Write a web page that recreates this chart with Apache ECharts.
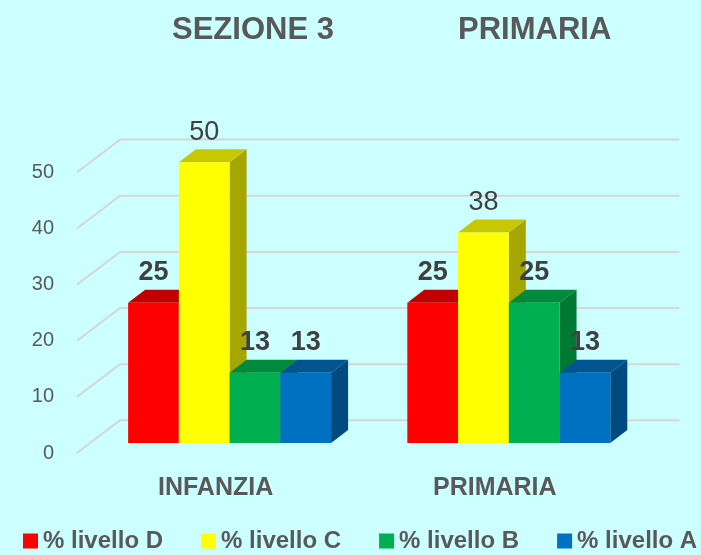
<!DOCTYPE html>
<html>
<head>
<meta charset="utf-8">
<script src="https://cdn.jsdelivr.net/npm/echarts@6/dist/echarts.min.js"></script>
<style>
  html, body { margin: 0; padding: 0; background: #CCFFFF; }
  #container { width: 701px; height: 555px; }
</style>
</head>
<body>
<div id="container"></div>
<script>
(function() {
"use strict";

    var categories = ['INFANZIA', 'PRIMARIA'];
    var seriesNames = ['% livello D', '% livello C', '% livello B', '% livello A'];
    var livelloD = [25, 25];
    var livelloC = [50, 37.5];
    var livelloB = [12.5, 25];
    var livelloA = [12.5, 12.5];
    var yTicks = [0, 10, 20, 30, 40, 50];

    // front / top / side colours of each 3d bar
    var faces = [
        ['#FF0000', '#C00000', '#A80000'],
        ['#FFFF00', '#C8C800', '#A6A600'],
        ['#00B050', '#008A3C', '#007A33'],
        ['#0070C0', '#005590', '#004A80']
    ];
    var values = [livelloD, livelloC, livelloB, livelloA];

    var DX = 17, DY = -13;   // depth of the bars
    var font = '"Liberation Sans", Arial, sans-serif';

    var dom = document.getElementById("container");
    var myChart = echarts.init(dom);

    function barRenderer(idx) {
        return function(params, api) {
            var cat = api.value(0), val = api.value(1);
            var base = api.coord([cat, 0]);
            var top = api.coord([cat, val]);
            var band = api.size([1, 0])[0];
            var bw = band * 0.727 / 4;
            var x0 = base[0] - bw * 2 + idx * bw;
            var x1 = x0 + bw;
            var yb = base[1], yt = top[1];
            var c = faces[idx];
            var bold = idx === 1 ? 'normal' : 'bold';
            return {
                type: 'group',
                children: [{
                    type: 'polygon',
                    shape: { points: [[x1, yt], [x1 + DX, yt + DY], [x1 + DX, yb + DY], [x1, yb]] },
                    style: { fill: c[2] }
                }, {
                    type: 'polygon',
                    shape: { points: [[x0, yt], [x1, yt], [x1 + DX, yt + DY], [x0 + DX, yt + DY]] },
                    style: { fill: c[1] }
                }, {
                    type: 'rect',
                    shape: { x: x0, y: yt, width: bw, height: yb - yt },
                    style: { fill: c[0] }
                }, {
                    type: 'text',
                    x: (x0 + x1) / 2,
                    y: yt - 30,
                    style: {
                        text: String(Math.round(val)),
                        fill: '#404040',
                        font: bold + ' 27px ' + font,
                        align: 'center',
                        verticalAlign: 'middle'
                    }
                }]
            };
        };
    }

    function gridRenderer(params, api) {
        var cs = params.coordSys;
        var y = api.coord([0, api.value(0)])[1];
        return {
            type: 'polyline',
            shape: { points: [[cs.x - 13, y + 10], [cs.x + 30, y - 22.7], [cs.x + cs.width + 31, y - 22.7]] },
            style: { stroke: '#D6D6D6', lineWidth: 2, fill: null }
        };
    }

    var series = [{
        type: 'custom',
        name: 'grid',
        xAxisIndex: 0,
        yAxisIndex: 0,
        silent: true,
        z: 1,
        renderItem: gridRenderer,
        data: yTicks.map(function(t) { return [t]; }),
        encode: { y: 0 }
    }];

    seriesNames.forEach(function(name, i) {
        series.push({
            type: 'custom',
            name: name,
            xAxisIndex: 0,
            yAxisIndex: 0,
            z: 2,
            itemStyle: { color: faces[i][0] },
            renderItem: barRenderer(i),
            data: values[i].map(function(v, k) { return [k, v]; }),
            encode: { x: 0, y: 1 }
        });
    });

    var option = {
        backgroundColor: '#CCFFFF',
        animation: false,
        title: [{
            text: 'SEZIONE 3',
            left: 172,
            top: 15,
            padding: 0,
            textStyle: { color: '#595959', fontSize: 31, fontWeight: 'bold', fontFamily: font }
        }, {
            text: 'PRIMARIA',
            left: 458,
            top: 15,
            padding: 0,
            textStyle: { color: '#595959', fontSize: 31, fontWeight: 'bold', fontFamily: font }
        }],
        legend: {
            data: seriesNames,
            left: 23,
            top: 529,
            padding: 0,
            itemWidth: 15,
            itemHeight: 15,
            itemGap: 38,
            icon: 'rect',
            textStyle: { color: '#595959', fontSize: 24, fontWeight: 'bold', fontFamily: font }
        },
        grid: [
            { left: 90, right: 52.6, top: 162.3, bottom: 112 },
            { left: 77, right: 52.6, top: 172.3, bottom: 102 }
        ],
        xAxis: [{
            type: 'category',
            gridIndex: 0,
            data: categories,
            axisLine: { show: false },
            axisTick: { show: false },
            axisLabel: {
                margin: 33,
                padding: [0, 28, 0, 0],
                color: '#595959',
                fontSize: 25,
                fontWeight: 'bold',
                fontFamily: font
            }
        }, {
            type: 'category',
            gridIndex: 1,
            data: categories,
            show: false
        }],
        yAxis: [{
            type: 'value',
            gridIndex: 0,
            min: 0,
            max: 50,
            interval: 10,
            axisLabel: { show: false },
            axisLine: { show: false },
            axisTick: { show: false },
            splitLine: { show: false }
        }, {
            type: 'value',
            gridIndex: 1,
            min: 0,
            max: 50,
            interval: 10,
            axisLine: { show: false },
            axisTick: { show: false },
            splitLine: { show: false },
            axisLabel: { margin: 23, color: '#595959', fontSize: 20, fontFamily: font }
        }],
        series: series
    };

    myChart.setOption(option);

})();
</script>
</body>
</html>
